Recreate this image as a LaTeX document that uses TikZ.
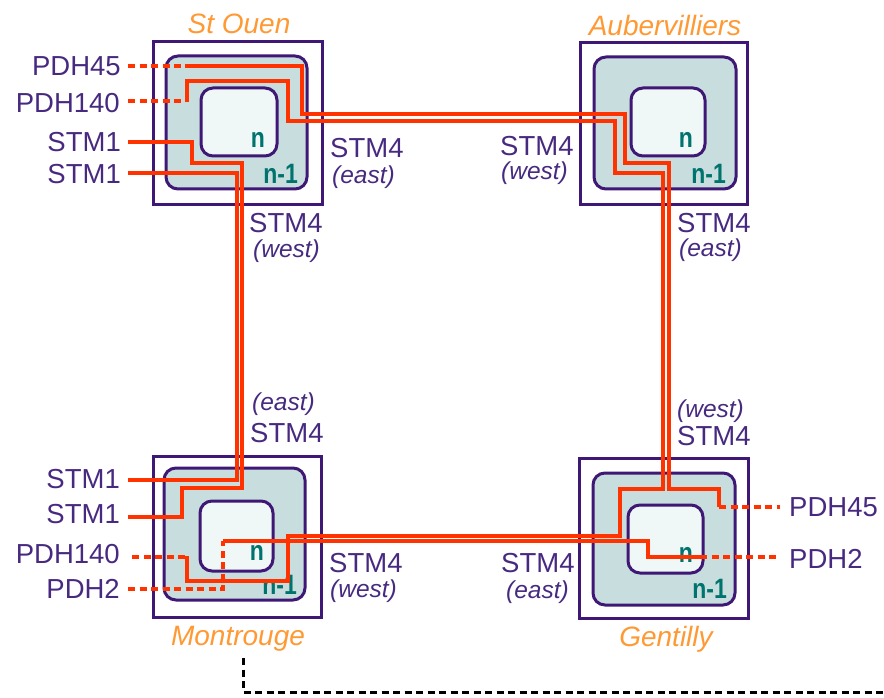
\documentclass[tikz,border=0pt]{standalone}
\usepackage{fontspec}
\setmainfont{Liberation Sans}
\definecolor{ink}{HTML}{472A80}
\definecolor{frame}{HTML}{3E1874}
\definecolor{site}{HTML}{FF9933}
\definecolor{level}{HTML}{00736E}
\definecolor{link}{HTML}{FF3300}
\definecolor{midfill}{HTML}{C8DDDD}
\definecolor{innerfill}{HTML}{EFF7F7}
\newcommand\lvtext[1]{\scalebox{0.82}[1]{#1}}
\begin{document}
\begin{tikzpicture}[x=1pt,y=-1pt,
  outerbox/.style={draw=frame,line width=3pt},
  midbox/.style={draw=frame,fill=midfill,line width=3pt,rounded corners=12pt},
  innerbox/.style={draw=frame,fill=innerfill,line width=3pt,rounded corners=12pt},
  lbl/.style={text=ink,inner sep=0pt,font=\fontsize{27.5}{30}\selectfont},
  side/.style={text=ink,inner sep=0pt,font=\fontsize{24.5}{27}\selectfont\itshape},
  sitename/.style={text=site,inner sep=0pt,font=\fontsize{28}{31}\selectfont\itshape},
  lev/.style={text=level,inner sep=0pt,font=\fontsize{28}{30}\selectfont\bfseries,anchor=base east},
  wire/.style={draw=link,line width=3.3pt},
  tail/.style={draw=link,line width=3.3pt,dash pattern=on 7pt off 4.5pt},
  span/.style={draw=black,line width=3pt,dash pattern=on 7pt off 4.5pt}]
\useasboundingbox (0,0) rectangle (884,698);

% ---- the four nodes: outer frame, ring n-1, ring n
% St Ouen
\draw[outerbox] (153,42) rectangle (322,204);
\draw[midbox] (166,56) rectangle (307,189);
\draw[innerbox] (201,88) rectangle (277,156);
% Aubervilliers
\draw[outerbox] (580,43) rectangle (747,204);
\draw[midbox] (594,57) rectangle (736,189);
\draw[innerbox] (631,88) rectangle (705,156);
% Montrouge
\draw[outerbox] (153,456) rectangle (321,617);
\draw[midbox] (164,468) rectangle (305,600);
\draw[innerbox] (200,501) rectangle (273,571);
% Gentilly
\draw[outerbox] (579,458) rectangle (748,618);
\draw[midbox] (593,473) rectangle (735,605);
\draw[innerbox] (628,505) rectangle (703,573);

% ring levels
\node[lev] (soN)  at (265,148) {\lvtext{n}};
\node[lev] (soN1) at (298,183) {\lvtext{n-1}};
\node[lev] (auN)  at (693,148) {\lvtext{n}};
\node[lev] (auN1) at (726,184) {\lvtext{n-1}};
\node[lev] (moN)  at (264,560) {\lvtext{n}};
\node[lev] (moN1) at (297,594) {\lvtext{n-1}};
\node[lev] (geN)  at (693,562) {\lvtext{n}};
\node[lev] (geN1) at (727,598) {\lvtext{n-1}};

% ---- tributary ends
\coordinate (so45)  at (128,66);
\coordinate (so140) at (128,101);
\coordinate (so1a)  at (128,142);
\coordinate (so1b)  at (128,173);
\coordinate (mo1a)  at (128,480);
\coordinate (mo1b)  at (128,517);
\coordinate (mo140) at (128,557);
\coordinate (mo2)   at (128,589);
\coordinate (ge45)  at (780,507);
\coordinate (ge2)   at (780,557);

% PDH45: St Ouen -> Aubervilliers -> Gentilly
\draw[tail] (so45) -- (185,66);
\draw[wire] (185,66) -- (302,66) -- (302,114) -- (625,114) -- (625,163)
  -- (669,163) -- (669,489) -- (719,489) -- (719,507);
\draw[tail] (719,507) -- (ge45);

% PDH140: St Ouen -> Aubervilliers -> Gentilly -> Montrouge
\draw[tail] (so140) -- (185,101);
\draw[wire] (187,102.5) -- (187,81) -- (288,81) -- (288,121) -- (615,121)
  -- (615,173) -- (663,173) -- (663,489) -- (620,489) -- (620,536)
  -- (288,536) -- (288,581) -- (187,581) -- (187,555.5);
\draw[tail] (185,557) -- (mo140);

% PDH2: Montrouge -> Gentilly
\draw[tail] (mo2) -- (223,589) -- (223,541);
\draw[wire] (223,541) -- (648,541) -- (648,557) -- (700,557);
\draw[tail] (700,557) -- (ge2);

% STM1 pair: St Ouen -> Montrouge
\draw[wire] (so1a) -- (192,142) -- (192,163) -- (242,163) -- (242,488)
  -- (182,488) -- (182,517) -- (mo1b);
\draw[wire] (so1b) -- (237,173) -- (237,480) -- (mo1a);

% link leaving the ring
\coordinate (spanA) at (243,658);
\coordinate (spanB) at (884,692);
\draw[span] (spanA) -- (spanA |- spanB) -- (spanB);

% ---- site names
\node[sitename,anchor=base] (nSO) at (239,34) {St Ouen};
\node[sitename,anchor=base] (nAU) at (665,36) {Aubervilliers};
\node[sitename,anchor=base] (nMO) at (238,645) {Montrouge};
\node[sitename,anchor=base] (nGE) at (666,646) {Gentilly};

% ---- port labels, St Ouen
\node[lbl,anchor=base east] (lso45)  at (121,76)  {PDH45};
\node[lbl,anchor=base east] (lso140) at (120,113) {PDH140};
\node[lbl,anchor=base east] (lso1a)  at (121,152) {STM1};
\node[lbl,anchor=base east] (lso1b)  at (121,183) {STM1};
\node[lbl,anchor=base west] (lsoE)  at (330,158) {STM4};
\node[side,anchor=base west] (dsoE) at (332,183) {(east)};
\node[lbl,anchor=base west] (lsoW)  at (249,232) {STM4};
\node[side,anchor=base west] (dsoW) at (253,257) {(west)};

% ---- port labels, Aubervilliers
\node[lbl,anchor=base west] (lauW)  at (500,156) {STM4};
\node[side,anchor=base west] (dauW) at (501,180) {(west)};
\node[lbl,anchor=base west] (lauE)  at (677,232) {STM4};
\node[side,anchor=base west] (dauE) at (679,256) {(east)};

% ---- port labels, Montrouge
\node[side,anchor=base west] (dmoE) at (252,410) {(east)};
\node[lbl,anchor=base west] (lmoE)  at (250,442) {STM4};
\node[lbl,anchor=base west] (lmoW)  at (329,572) {STM4};
\node[side,anchor=base west] (dmoW) at (330,597) {(west)};
\node[lbl,anchor=base east] (lmo1a)  at (120,488) {STM1};
\node[lbl,anchor=base east] (lmo1b)  at (120,523) {STM1};
\node[lbl,anchor=base east] (lmo140) at (120,563) {PDH140};
\node[lbl,anchor=base east] (lmo2)   at (120,598) {PDH2};

% ---- port labels, Gentilly
\node[side,anchor=base west] (dgeW) at (677,417) {(west)};
\node[lbl,anchor=base west] (lgeW)  at (677,445) {STM4};
\node[lbl,anchor=base west] (lgeE)  at (501,572) {STM4};
\node[side,anchor=base west] (dgeE) at (506,598) {(east)};
\node[lbl,anchor=base west] (lge45) at (789,516) {PDH45};
\node[lbl,anchor=base west] (lge2)  at (789,568) {PDH2};
\end{tikzpicture}
\end{document}
